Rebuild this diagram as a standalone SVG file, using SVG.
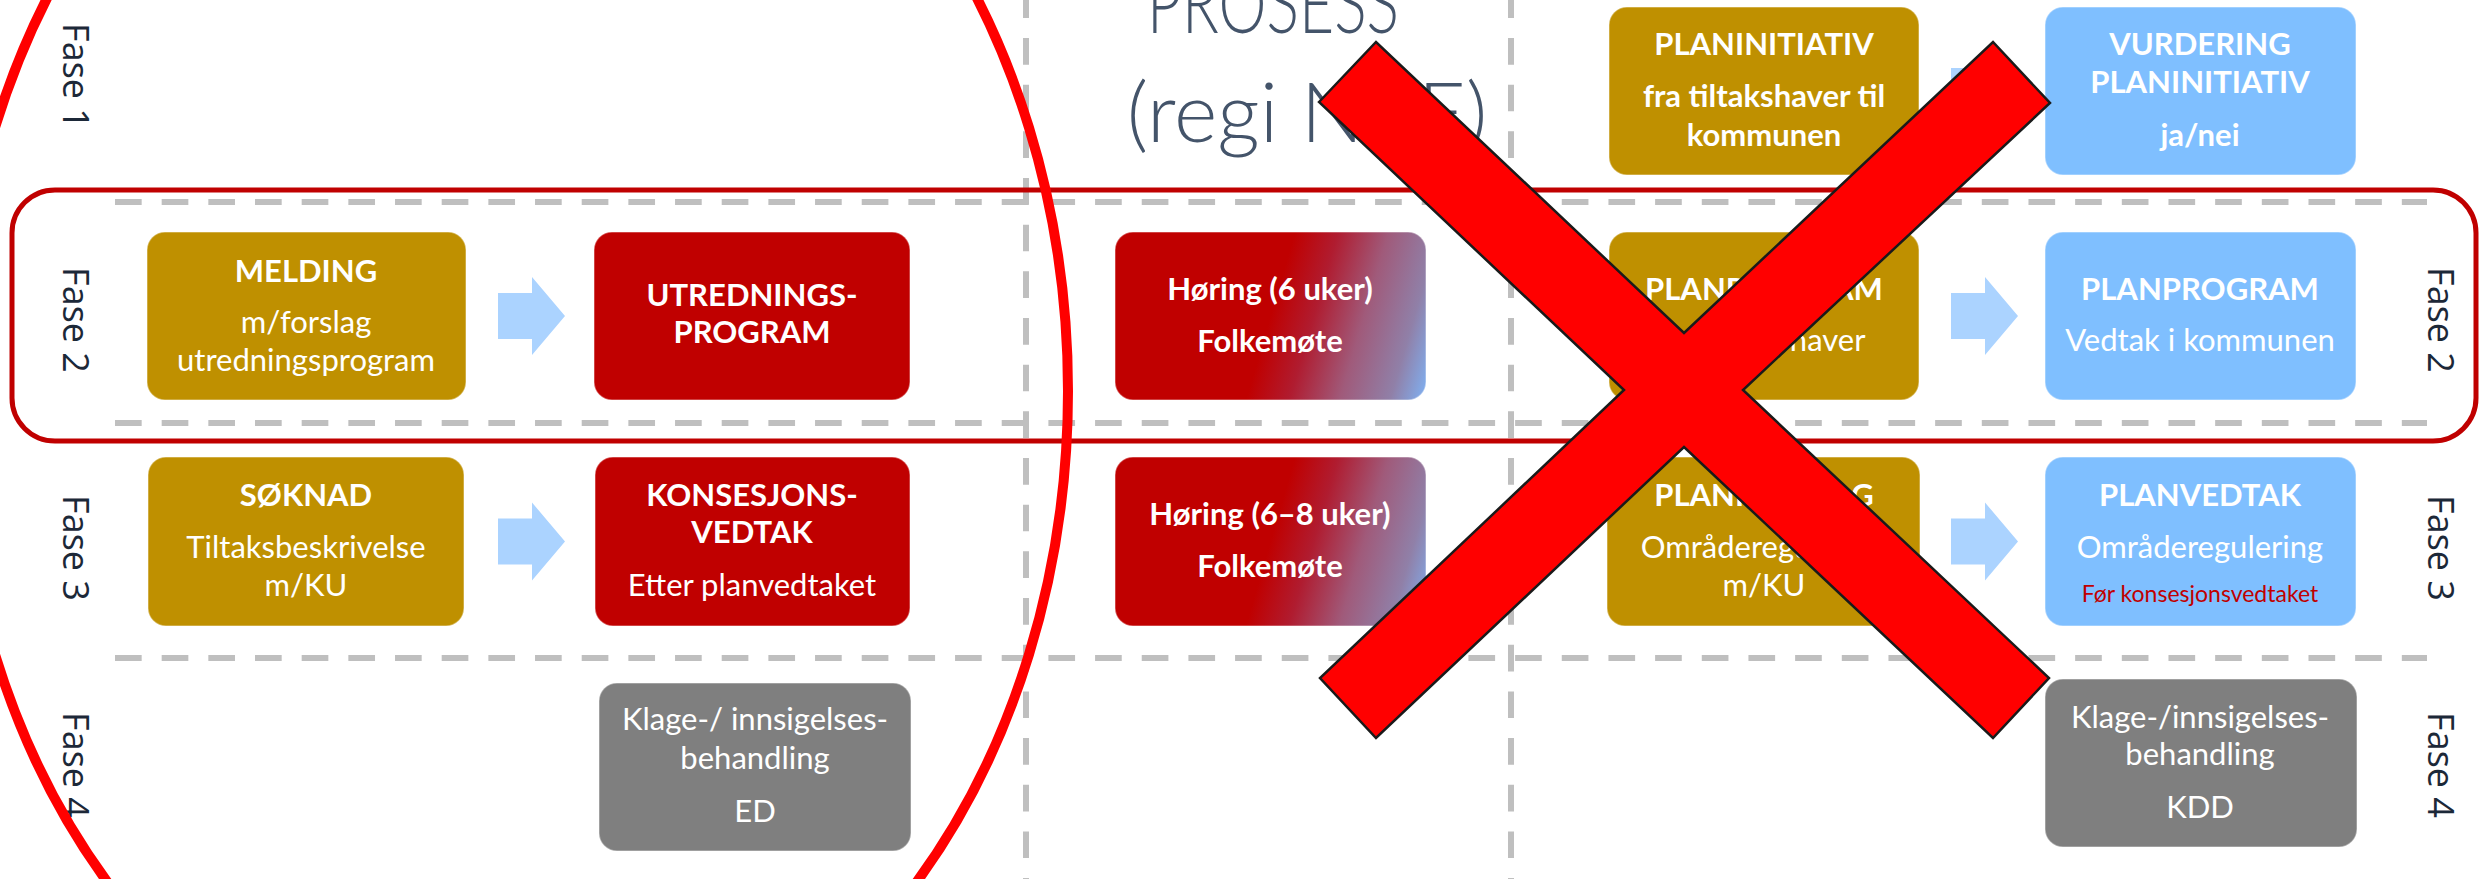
<svg xmlns="http://www.w3.org/2000/svg" xmlns:xlink="http://www.w3.org/1999/xlink" width="2484" height="879" viewBox="0 0 2484 879">
<style>
.bg{fill:#fff}
.dash{stroke:#BFBFBF;stroke-width:6;stroke-dasharray:26.67 20;fill:none}
.frame{fill:none;stroke:#C00000;stroke-width:5}
.node rect{stroke:#ffffff;stroke-opacity:0.35;stroke-width:1.5}
.gold{fill:#BF9000}
.red{fill:#C00000}
.blue{fill:#7FBFFF}
.gray{fill:#7F7F7F}
.node text{font-family:Lato,"Liberation Sans",sans-serif;font-size:31px;fill:#fff;text-anchor:middle}
.node text.b{font-weight:700}
.node text.small{font-size:23px;fill:#C00000}
.fase{font-family:"Open Sans","DejaVu Sans",sans-serif;font-size:36px;fill:#1C2838;text-anchor:middle}
.title{font-family:Lato,"Liberation Sans",sans-serif;font-weight:300;font-size:83px;fill:#44546A;text-anchor:middle}
.arrow{fill:#ABD3FF}
.cross{fill:#FF0000;stroke:#1A1A1A;stroke-width:2.5;stroke-linejoin:miter}
.circle{fill:none;stroke:#FF0000;stroke-width:10}
</style>
<defs>
<path id="arr" d="M0,-23 H34 V-39 L67,0 L34,39 V23 H0 Z"/>
<linearGradient id="hg1" gradientUnits="userSpaceOnUse" x1="1115" y1="232" x2="1446.8" y2="328.8">
<stop offset="0" stop-color="#C00000"/>
<stop offset="0.5" stop-color="#C00000"/>
<stop offset="0.62" stop-color="#B01C30"/>
<stop offset="0.76" stop-color="#A05A7A"/>
<stop offset="0.9" stop-color="#9080A8"/>
<stop offset="1" stop-color="#7FB2F4"/>
</linearGradient>
<linearGradient id="hg2" gradientUnits="userSpaceOnUse" x1="1115" y1="457" x2="1446.8" y2="553.8">
<stop offset="0" stop-color="#C00000"/>
<stop offset="0.5" stop-color="#C00000"/>
<stop offset="0.62" stop-color="#B01C30"/>
<stop offset="0.76" stop-color="#A05A7A"/>
<stop offset="0.9" stop-color="#9080A8"/>
<stop offset="1" stop-color="#7FB2F4"/>
</linearGradient>
</defs>
<rect class="bg" x="0" y="0" width="2484" height="879"/>

<g id="grid">
<line class="dash" x1="115" y1="202" x2="2427" y2="202"/>
<line class="dash" x1="115" y1="423" x2="2427" y2="423"/>
<line class="dash" x1="115" y1="658" x2="2427" y2="658"/>
<line class="dash" x1="1026" y1="-8.67" x2="1026" y2="879"/>
<line class="dash" x1="1511" y1="-8.67" x2="1511" y2="879"/>
</g>

<g id="fase2-frame">
<rect class="frame" x="12" y="190" width="2464" height="251" rx="43"/>
</g>

<g id="labels">
<text class="fase" transform="translate(63,76) rotate(90)">Fase 1</text>
<text class="fase" transform="translate(63,320) rotate(90)">Fase 2</text>
<text class="fase" transform="translate(63,548) rotate(90)">Fase 3</text>
<text class="fase" transform="translate(63,765) rotate(90)">Fase 4</text>
<text class="fase" transform="translate(2428,320) rotate(90)">Fase 2</text>
<text class="fase" transform="translate(2428,548) rotate(90)">Fase 3</text>
<text class="fase" transform="translate(2428,765) rotate(90)">Fase 4</text>
</g>

<g id="prosess-title">
<text class="title" x="1273" y="33" textLength="252" lengthAdjust="spacingAndGlyphs">PROSESS</text>
<text class="title" x="1307" y="142">(regi NVE)</text>
</g>

<g id="planinitiativ" class="node">
<rect class="gold" x="1609" y="7" width="310" height="168" rx="18"/>
<text class="b" x="1764" y="55">PLANINITIATIV</text>
<text class="b" x="1764" y="107">fra tiltakshaver til</text>
<text class="b" x="1764" y="146">kommunen</text>
</g>
<g id="vurdering" class="node">
<rect class="blue" x="2045" y="7" width="311" height="168" rx="18"/>
<text class="b" x="2200" y="55">VURDERING</text>
<text class="b" x="2200" y="93">PLANINITIATIV</text>
<text class="b" x="2200" y="146">ja/nei</text>
</g>

<g id="melding" class="node">
<rect class="gold" x="147" y="232" width="319" height="168" rx="18"/>
<text class="b" x="306" y="282">MELDING</text>
<text x="306" y="333">m/forslag</text>
<text x="306" y="371">utredningsprogram</text>
</g>
<g id="utredningsprogram" class="node">
<rect class="red" x="594" y="232" width="316" height="168" rx="18"/>
<text class="b" x="752" y="306">UTREDNINGS-</text>
<text class="b" x="752" y="343">PROGRAM</text>
</g>
<g id="horing1" class="node">
<rect fill="url(#hg1)" x="1115" y="232" width="311" height="168" rx="18"/>
<text class="b" x="1270" y="300">Høring (6 uker)</text>
<text class="b" x="1270" y="352">Folkemøte</text>
</g>
<g id="planprogram-th" class="node">
<rect class="gold" x="1609" y="232" width="310" height="168" rx="18"/>
<text class="b" x="1764" y="300">PLANPROGRAM</text>
<text x="1764" y="351">fra tiltakshaver</text>
</g>
<g id="planprogram-vedtak" class="node">
<rect class="blue" x="2045" y="232" width="311" height="168" rx="18"/>
<text class="b" x="2200" y="300">PLANPROGRAM</text>
<text x="2200" y="351">Vedtak i kommunen</text>
</g>

<g id="soknad" class="node">
<rect class="gold" x="148" y="457" width="316" height="169" rx="18"/>
<text class="b" x="306" y="506">SØKNAD</text>
<text x="306" y="558">Tiltaksbeskrivelse</text>
<text x="306" y="596">m/KU</text>
</g>
<g id="konsesjonsvedtak" class="node">
<rect class="red" x="595" y="457" width="315" height="169" rx="18"/>
<text class="b" x="752" y="506">KONSESJONS-</text>
<text class="b" x="752" y="543">VEDTAK</text>
<text x="752" y="596">Etter planvedtaket</text>
</g>
<g id="horing2" class="node">
<rect fill="url(#hg2)" x="1115" y="457" width="311" height="169" rx="18"/>
<text class="b" x="1270" y="525">Høring (6–8 uker)</text>
<text class="b" x="1270" y="577">Folkemøte</text>
</g>
<g id="planforslag" class="node">
<rect class="gold" x="1607" y="457" width="313" height="169" rx="18"/>
<text class="b" x="1764" y="506">PLANFORSLAG</text>
<text x="1764" y="558">Områderegulering</text>
<text x="1764" y="596">m/KU</text>
</g>
<g id="planvedtak" class="node">
<rect class="blue" x="2045" y="457" width="311" height="169" rx="18"/>
<text class="b" x="2200" y="506">PLANVEDTAK</text>
<text x="2200" y="558">Områderegulering</text>
<text class="small" x="2200" y="602">Før konsesjonsvedtaket</text>
</g>

<g id="klage-ed" class="node">
<rect class="gray" x="599" y="683" width="312" height="168" rx="18"/>
<text x="755" y="730">Klage-/ innsigelses-</text>
<text x="755" y="769">behandling</text>
<text x="755" y="822">ED</text>
</g>
<g id="klage-kdd" class="node">
<rect class="gray" x="2045" y="679" width="312" height="168" rx="18"/>
<text x="2200" y="728">Klage-/innsigelses-</text>
<text x="2200" y="765">behandling</text>
<text x="2200" y="818">KDD</text>
</g>

<g id="connectors">
<use class="arrow" xlink:href="#arr" href="#arr" transform="translate(498,316)"/>
<use class="arrow" xlink:href="#arr" href="#arr" transform="translate(498,541.5)"/>
<use class="arrow" xlink:href="#arr" href="#arr" transform="translate(1951,91)"/>
<use class="arrow" xlink:href="#arr" href="#arr" transform="translate(1951,316)"/>
<use class="arrow" xlink:href="#arr" href="#arr" transform="translate(1951,541.5)"/>
</g>

<g id="ring">
<ellipse class="circle" cx="512" cy="391" rx="556" ry="716"/>
</g>

<g id="cross">
<polygon class="cross" points="1319,102 1376,42 1684,333 1993,42 2050,103 1743,390 2049,678 1993,738 1684,447 1376,738 1320,678 1624,390"/>
</g>
</svg>
